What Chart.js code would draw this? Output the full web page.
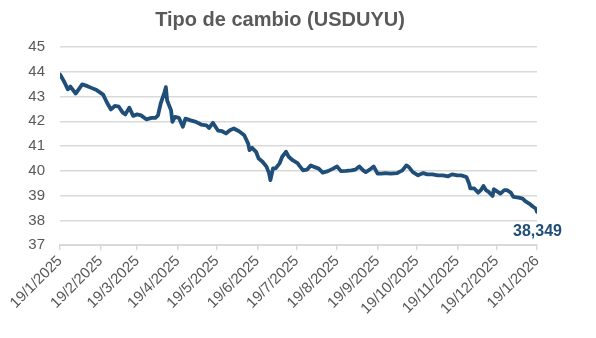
<!DOCTYPE html>
<html>
<head>
<meta charset="utf-8">
<script src="https://cdn.jsdelivr.net/npm/chart.js@4/dist/chart.umd.min.js"></script>
<style>
  html, body { margin: 0; padding: 0; background: #ffffff; }
  #wrap { width: 596px; height: 338px; }
</style>
</head>
<body>
<div id="wrap"><canvas id="c" width="596" height="338"></canvas></div>
<script>
// Tipo de cambio USD/UYU, observaciones diarias
const fechas = [
  "2025-01-19","2025-01-22","2025-01-25","2025-01-27","2025-01-31","2025-02-05","2025-02-09","2025-02-12",
  "2025-02-16","2025-02-18","2025-02-21","2025-02-24","2025-02-27","2025-03-02","2025-03-05","2025-03-08",
  "2025-03-10","2025-03-13","2025-03-16","2025-03-19","2025-03-22","2025-03-26","2025-03-30","2025-04-02",
  "2025-04-04","2025-04-06","2025-04-09","2025-04-10","2025-04-11","2025-04-14","2025-04-15","2025-04-17",
  "2025-04-20","2025-04-23","2025-04-25","2025-04-29","2025-05-03","2025-05-07","2025-05-11","2025-05-13",
  "2025-05-16","2025-05-20","2025-05-23","2025-05-26","2025-05-29","2025-06-01","2025-06-05","2025-06-09",
  "2025-06-12","2025-06-13","2025-06-15","2025-06-18","2025-06-20","2025-06-23","2025-06-26","2025-06-28",
  "2025-06-29","2025-07-01","2025-07-03","2025-07-06","2025-07-08","2025-07-11","2025-07-13","2025-07-16",
  "2025-07-20","2025-07-21","2025-07-24","2025-07-27","2025-07-30","2025-08-02","2025-08-05","2025-08-08",
  "2025-08-12","2025-08-16","2025-08-19","2025-08-22","2025-08-26","2025-08-30","2025-09-02","2025-09-05",
  "2025-09-08","2025-09-10","2025-09-13","2025-09-16","2025-09-19","2025-09-22","2025-09-25","2025-09-29",
  "2025-10-04","2025-10-08","2025-10-11","2025-10-13","2025-10-16","2025-10-20","2025-10-24","2025-10-27",
  "2025-10-31","2025-11-04","2025-11-08","2025-11-12","2025-11-15","2025-11-19","2025-11-22","2025-11-26",
  "2025-11-28","2025-11-29","2025-12-02","2025-12-05","2025-12-07","2025-12-09","2025-12-11","2025-12-13",
  "2025-12-16","2025-12-17","2025-12-20","2025-12-22","2025-12-25","2025-12-27","2025-12-30","2026-01-01",
  "2026-01-05","2026-01-08","2026-01-10","2026-01-13","2026-01-16","2026-01-18","2026-01-19"
];

const usduyu = [
  43.89,43.62,43.29,43.40,43.12,43.49,43.42,43.35,
  43.26,43.19,43.08,42.75,42.48,42.62,42.59,42.35,
  42.28,42.55,42.22,42.28,42.24,42.08,42.14,42.14,
  42.24,42.71,43.18,43.38,42.84,42.44,41.98,42.18,
  42.14,41.78,42.11,42.04,41.98,41.87,41.84,41.73,
  41.94,41.62,41.60,41.51,41.64,41.71,41.60,41.44,
  41.10,40.84,40.93,40.77,40.50,40.37,40.17,39.90,
  39.63,40.10,40.10,40.30,40.57,40.77,40.57,40.43,
  40.30,40.22,40.02,40.05,40.22,40.15,40.09,39.93,
  39.99,40.09,40.18,39.99,40.00,40.02,40.05,40.18,
  40.02,39.95,40.05,40.18,39.89,39.89,39.91,39.89,
  39.91,40.02,40.22,40.15,39.95,39.82,39.91,39.86,
  39.86,39.82,39.82,39.78,39.86,39.82,39.82,39.75,
  39.49,39.29,39.29,39.12,39.22,39.39,39.22,39.15,
  38.99,39.26,39.15,39.08,39.22,39.22,39.12,38.95,
  38.92,38.88,38.78,38.68,38.55,38.48,38.349
];

// Fechas de las marcas del eje horizontal (día 19 de cada mes)
const fechasEje = [
  "2025-01-19","2025-02-19","2025-03-19","2025-04-19","2025-05-19","2025-06-19","2025-07-19",
  "2025-08-19","2025-09-19","2025-10-19","2025-11-19","2025-12-19","2026-01-19"
];

const ticksY = [37, 38, 39, 40, 41, 42, 43, 44, 45];

const titulo = "Tipo de cambio (USDUYU)";

const DIA = 86400000;
const inicio = Date.UTC(2025, 0, 19);
function dias(iso) {
  const [a, m, d] = iso.split("-").map(Number);
  return Math.round((Date.UTC(a, m - 1, d) - inicio) / DIA);
}
function etiqueta(iso) {
  const [a, m, d] = iso.split("-").map(Number);
  return d + "/" + m + "/" + a;
}

const puntos = fechas.map((f, i) => ({ x: dias(f), y: usduyu[i] }));
const posEje = fechasEje.map(dias);
const textoEje = {};
fechasEje.forEach(f => { textoEje[dias(f)] = etiqueta(f); });

const AZUL = "#1f4e79";
const GRIS_TXT = "#595959";
const GRIS_LIN = "#d9d9d9";
const FUENTE = "'Liberation Sans', Arial, sans-serif";

// Título y valor final escritos sobre el lienzo
const textos = {
  id: "textos",
  afterDraw(chart) {
    const ctx = chart.ctx;
    ctx.save();
    ctx.fillStyle = GRIS_TXT;
    ctx.font = "bold 20px " + FUENTE;
    ctx.textAlign = "center";
    ctx.textBaseline = "alphabetic";
    ctx.fillText(titulo, 280, 26);

    const xs = chart.scales.x, ys = chart.scales.y;
    const ult = puntos[puntos.length - 1];
    const valor = ult.y.toFixed(3).replace(".", ",");
    ctx.fillStyle = AZUL;
    ctx.font = "bold 16px " + FUENTE;
    ctx.textAlign = "right";
    ctx.textBaseline = "middle";
    ctx.fillText(valor, xs.getPixelForValue(ult.x) + 25, ys.getPixelForValue(ult.y) + 20);
    ctx.restore();
  }
};

new Chart(document.getElementById("c"), {
  type: "line",
  data: {
    datasets: [{
      data: puntos,
      borderColor: AZUL,
      borderWidth: 3.8,
      pointRadius: 0,
      tension: 0,
      fill: false,
      borderJoinStyle: "round",
      borderCapStyle: "round"
    }]
  },
  options: {
    responsive: false,
    animation: false,
    events: [],
    layout: { padding: { top: 47, right: 59, bottom: 18, left: 4 } },
    plugins: { legend: { display: false }, title: { display: false }, tooltip: { enabled: false } },
    scales: {
      x: {
        type: "linear",
        min: posEje[0],
        max: posEje[posEje.length - 1],
        afterBuildTicks(scale) { scale.ticks = posEje.map(v => ({ value: v })); },
        ticks: {
          autoSkip: false,
          minRotation: 45,
          maxRotation: 45,
          padding: 2,
          color: GRIS_TXT,
          font: { family: FUENTE, size: 15 },
          callback: v => textoEje[v]
        },
        grid: { display: true, drawOnChartArea: false, drawTicks: true, tickLength: 5, color: GRIS_LIN, lineWidth: 1.5 },
        border: { display: true, color: GRIS_LIN, width: 2 }
      },
      y: {
        min: ticksY[0],
        max: ticksY[ticksY.length - 1],
        afterBuildTicks(scale) { scale.ticks = ticksY.map(v => ({ value: v })); },
        afterFit(scale) { scale.width = 56; },
        ticks: {
          padding: 15,
          color: GRIS_TXT,
          font: { family: FUENTE, size: 15 }
        },
        grid: { color: GRIS_LIN, lineWidth: 1.5, drawTicks: false },
        border: { display: false }
      }
    }
  },
  plugins: [textos]
});
</script>
</body>
</html>
